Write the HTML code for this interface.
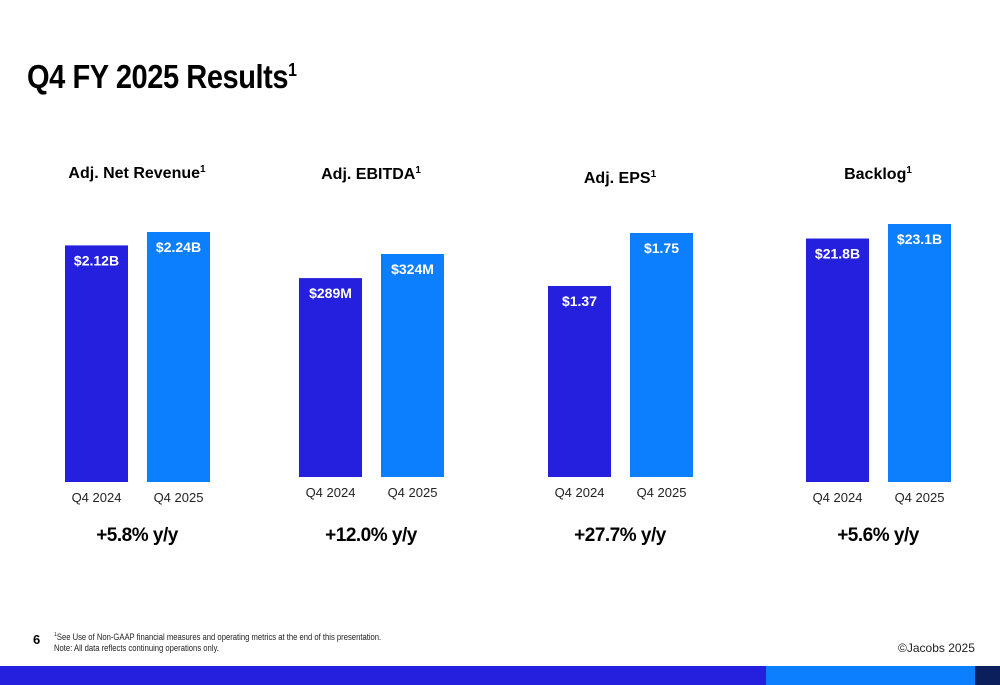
<!DOCTYPE html>
<html><head><meta charset="utf-8"><style>
body{margin:0;width:1000px;height:685px;overflow:hidden;background:#fff;font-family:"Liberation Sans",sans-serif;position:relative}
h1{position:absolute;left:27px;top:58px;margin:0;font-size:33px;font-weight:bold;letter-spacing:-0.5px;color:#000;transform:scaleX(0.88);transform-origin:left}
h1 sup{font-size:18px}
.ft{position:absolute;font-size:9px;color:#222;left:54px;top:630px;line-height:11px;transform:scaleX(0.85);transform-origin:left}
</style></head><body>
<h1>Q4 FY 2025 Results<sup>1</sup></h1>
<svg id="c" width="1000" height="685" style="position:absolute;left:0;top:0"></svg>
<div style="position:absolute;left:33px;top:632px;font-size:13px;font-weight:bold">6</div>
<div class="ft"><sup style="font-size:6px">1</sup>See Use of Non-GAAP financial measures and operating metrics at the end of this presentation.<br>Note: All data reflects continuing operations only.</div>
<div style="position:absolute;left:898px;top:641px;font-size:12px;color:#222">©Jacobs 2025</div>
<div style="position:absolute;left:0;top:666px;width:766px;height:19px;background:#2420DD"></div>
<div style="position:absolute;left:766px;top:666px;width:209px;height:19px;background:#0C7FFF"></div>
<div style="position:absolute;left:975px;top:666px;width:25px;height:19px;background:#0A1F5C"></div>
<script>
const titles=["Adj. Net Revenue","Adj. EBITDA","Adj. EPS","Backlog"];
const categories=["Q4 2024","Q4 2025"];
const prior=[2.12,289,1.37,21.8];
const current=[2.24,324,1.75,23.1];
const valueLabels=[["$2.12B","$2.24B"],["$289M","$324M"],["$1.37","$1.75"],["$21.8B","$23.1B"]];
const growth=["+5.8% y/y","+12.0% y/y","+27.7% y/y","+5.6% y/y"];
const axisMax=[2.24,324,1.75,23.1];
const L=[{x:65,base:482,h:250,ty:173},{x:299,base:477,h:223,ty:174},{x:548,base:477,h:244,ty:178},{x:806,base:482,h:258,ty:174}];
const svg=document.getElementById('c');const NS='http://www.w3.org/2000/svg';
function mk(t,a,txt){const e=document.createElementNS(NS,t);for(const k in a)e.setAttribute(k,a[k]);if(txt!=null)e.textContent=txt;svg.appendChild(e);return e;}
const colors=["#2420DD","#0C7FFF"];
L.forEach((l,i)=>{
 const y=v=>l.base-v/axisMax[i]*l.h;
 const cx=l.x+72;
 const t=mk('text',{x:cx,y:l.ty+5,'text-anchor':'middle','font-size':16,'font-weight':'bold','font-family':'Liberation Sans'},titles[i]);
 
 const s=document.createElementNS(NS,'tspan');s.setAttribute('dy','-6');s.setAttribute('font-size','10');s.textContent='1';t.appendChild(s);
 [prior[i],current[i]].forEach((v,j)=>{
  const bx=l.x+j*82;
  const r=mk('rect',{x:bx,y:y(v),width:63,height:l.base-y(v),fill:colors[j]});
  
  const vl=mk('text',{x:bx+31.5,y:y(v)+20,'text-anchor':'middle','font-size':14,'font-weight':'bold',fill:'#fff','font-family':'Liberation Sans'},valueLabels[i][j]);
  
  const cl=mk('text',{x:bx+31.5,y:l.base+20,'text-anchor':'middle','font-size':13,fill:'#222','font-family':'Liberation Sans'},categories[j]);
  
 });
 const g=mk('text',{x:cx,y:541,'text-anchor':'middle','font-size':19,'font-weight':'bold','letter-spacing':'-0.5','font-family':'Liberation Sans'},growth[i]);
 
});
</script>
</body></html>
